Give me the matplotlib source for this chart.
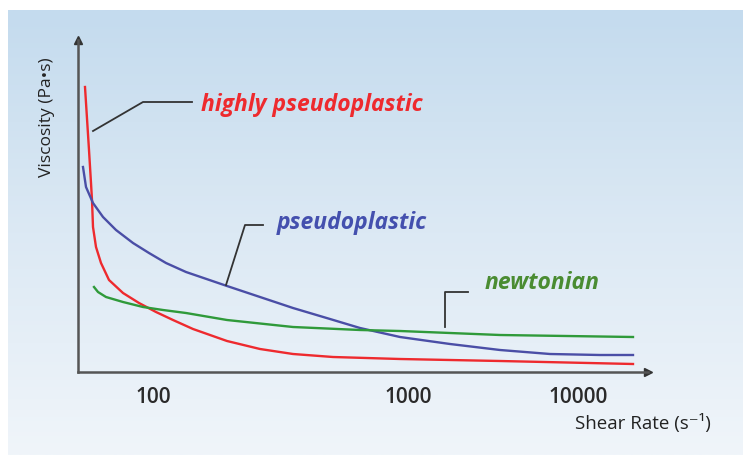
import numpy as np
import matplotlib.pyplot as plt
from matplotlib.colors import LinearSegmentedColormap

# schematic curves (x: position along shear-rate axis, y: viscosity, arbitrary units)
red_x = [7, 11, 13, 14, 15, 18, 23, 31, 45, 61, 78, 95, 115, 149, 182, 215, 255, 322, 422, 555]
red_y = [285, 222, 189, 172, 145, 125, 109, 92, 79, 69, 60, 52, 43, 31, 23, 18, 15, 13, 11, 8]

blue_x = [5, 8, 15, 25, 38, 55, 71, 88, 108, 149, 182, 215, 252, 282, 322, 372, 422, 472, 522, 555]
blue_y = [205, 185, 169, 155, 142, 129, 119, 109, 100, 86, 75, 64, 53, 44, 35, 28, 22, 18, 17, 17]

green_x = [16, 20, 28, 45, 65, 85, 108, 149, 215, 282, 322, 422, 555]
green_y = [85, 80, 75, 70, 65, 62, 59, 52, 45, 42, 41, 37, 35]

tick_pos = [75, 330, 500]
tick_labels = ["100", "1000", "10000"]

W, H = 743, 455
fig = plt.figure(figsize=(W / 100, H / 100), dpi=100, facecolor="white")
fam = ["Open Sans", "DejaVu Sans"]

# gradient panel
bg = fig.add_axes([8 / W, 0, 1 - 8 / W, 445 / H])
bg.set_axis_off()
cmap = LinearSegmentedColormap.from_list("bg", ["#c4dbee", "#dce9f4", "#f0f5fa"])
grad = np.linspace(0, 1, 256).reshape(-1, 1)
bg.imshow(grad, aspect="auto", cmap=cmap, extent=[0, 1, 0, 1])

ax = fig.add_axes([78 / W, 83 / H, 570 / W, 332 / H])
ax.set_facecolor("none")
ax.set_xlim(0, 570)
ax.set_ylim(0, 332)
for s in ["top", "right"]:
    ax.spines[s].set_visible(False)
for s in ["left", "bottom"]:
    ax.spines[s].set_color("#555555")
    ax.spines[s].set_linewidth(1.8)
ax.plot([570], [0], marker=">", color="#333333", ms=6, clip_on=False)
ax.plot([0], [332], marker="^", color="#333333", ms=6, clip_on=False)

ax.plot(red_x, red_y, color="#ee2a2e", lw=1.7, solid_joinstyle="round")
ax.plot(blue_x, blue_y, color="#4a4ea6", lw=1.7, solid_joinstyle="round")
ax.plot(green_x, green_y, color="#2f9a3a", lw=1.7, solid_joinstyle="round")

ax.set_yticks([])
ax.set_xticks(tick_pos)
ax.set_xticklabels(tick_labels, fontsize=15, fontweight="semibold", color="#2a2a2a", family=fam)
ax.tick_params(axis="x", length=0, pad=11)

# leaders and labels
lead = dict(color="#333333", lw=1.3, clip_on=False)
ax.plot([15, 65, 114], [241, 270, 270], **lead)
ax.plot([148, 167, 185], [87, 147, 147], **lead)
ax.plot([367, 367, 390], [45, 80, 80], **lead)

lab = dict(fontsize=16.5, fontweight="bold", style="italic", family=fam, va="center", ha="left")
ax.text(123, 267, "highly pseudoplastic", color="#ee2a2e", **lab)
ax.text(199, 149, "pseudoplastic", color="#4450ae", **lab)
ax.text(407, 89, "newtonian", color="#4a8c32", **lab)

fig.text(47 / W, 1 - 117 / H, "Viscosity (Pa\u2022s)", rotation=90, ha="center", va="center",
         fontsize=12.5, color="#222222", family=fam)
fig.text(643 / W, 1 - 423 / H, "Shear Rate (s\u207b\u00b9)", ha="center", va="center",
         fontsize=13.5, color="#222222", family=fam)

fig.savefig("out.png", dpi=100, facecolor="white")
